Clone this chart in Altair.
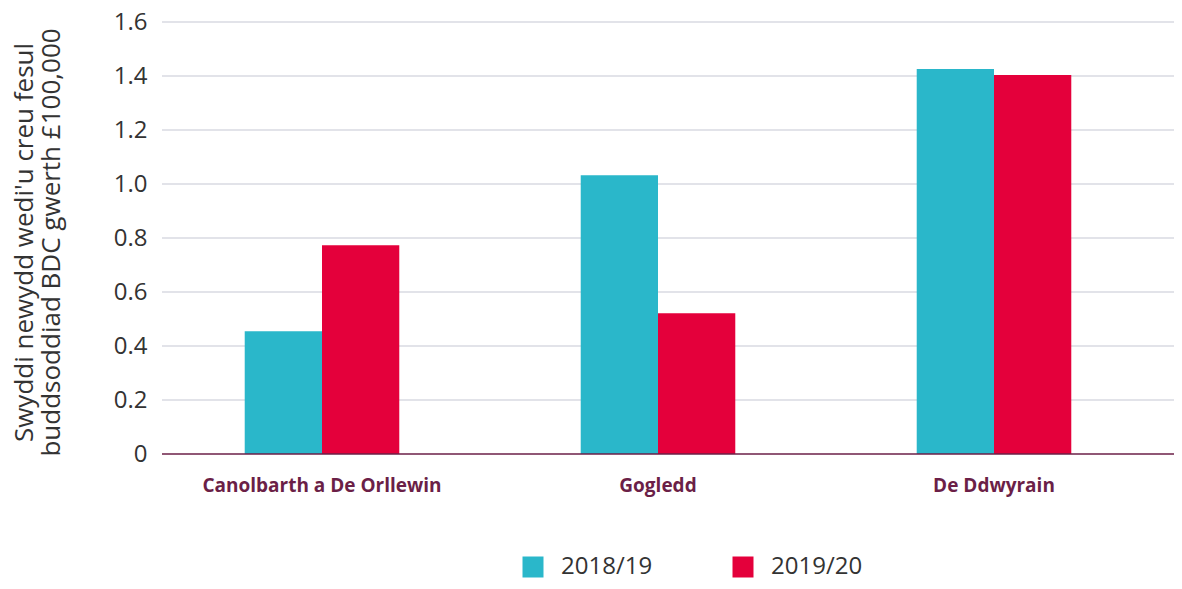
import altair as alt
import pandas as pd

regions = ["Canolbarth a De Orllewin", "Gogledd", "De Ddwyrain"]
years = ["2018/19", "2019/20"]
values_1819 = [0.455, 1.032, 1.426]
values_1920 = [0.773, 0.521, 1.404]
y_ticks = [0, 0.2, 0.4, 0.6, 0.8, 1.0, 1.2, 1.4, 1.6]
colors = ["#2ab7ca", "#e4003b"]

rows = []
for r, a, b in zip(regions, values_1819, values_1920):
    rows.append({"region": r, "year": years[0], "value": a})
    rows.append({"region": r, "year": years[1], "value": b})
df = pd.DataFrame(rows)
grid_df = pd.DataFrame({"v": [t for t in y_ticks if t > 0]})
zero_df = pd.DataFrame({"v": [0]})

FONT = "Open Sans"

grid = alt.Chart(grid_df).mark_rule(color="#c6c8d4", strokeWidth=1.2, clip=False).encode(
    y=alt.Y("v:Q", scale=alt.Scale(domain=[0, 1.6])),
    x=alt.value(8),
    x2=alt.value(1020),
)

bars = alt.Chart(df).mark_bar(strokeWidth=0).encode(
    x=alt.X(
        "region:N",
        sort=regions,
        scale=alt.Scale(paddingInner=0.54, paddingOuter=0.27),
        axis=alt.Axis(
            title=None,
            labelAngle=0,
            labelFont=FONT,
            labelFontSize=19,
            labelFontWeight="bold",
            labelColor="#6b1f47",
            labelPadding=22,
            labelLimit=500,
            ticks=False,
            domain=False,
            grid=False,
        ),
    ),
    xOffset=alt.XOffset("year:N", sort=years, scale=alt.Scale(paddingInner=0, paddingOuter=0)),
    y=alt.Y(
        "value:Q",
        scale=alt.Scale(domain=[0, 1.6], nice=False),
        axis=alt.Axis(
            title=["Swyddi newydd wedi'u creu fesul", "buddsoddiad BDC gwerth £100,000"],
            titleFont=FONT,
            titleFontSize=26,
            titleFontWeight="normal",
            titleColor="#333333",
            titleAngle=-90,
            titleX=-143,
            titleY=220,
            titleAlign="center",
            titleBaseline="top",
            titleLineHeight=27,
            values=y_ticks,
            labelExpr="datum.value == 0 ? '0' : format(datum.value, '.1f')",
            labelFont=FONT,
            labelFontSize=24,
            labelColor="#333333",
            labelPadding=7,
            ticks=False,
            domain=False,
            grid=False,
        ),
    ),
    color=alt.Color(
        "year:N",
        sort=years,
        scale=alt.Scale(domain=years, range=colors),
        legend=alt.Legend(
            title=None,
            orient="none",
            direction="horizontal",
            legendX=367,
            legendY=533,
            symbolType="square",
            symbolSize=441,
            symbolStrokeWidth=0,
            symbolOpacity=1,
            labelFont=FONT,
            labelFontSize=24,
            labelColor="#333333",
            labelOffset=16,
            columnPadding=78,
        ),
    ),
)

zero = alt.Chart(zero_df).mark_rule(color="#6b1f47", strokeWidth=1.5, clip=False).encode(
    y=alt.Y("v:Q", scale=alt.Scale(domain=[0, 1.6])),
    x=alt.value(8),
    x2=alt.value(1020),
)

chart = alt.layer(grid, bars, zero).properties(
    width=1008,
    height=432,
    background="white",
    autosize=alt.AutoSizeParams(type="none"),
    padding={"left": 146, "top": 14, "right": 12, "bottom": 126},
).configure_view(stroke="transparent", strokeWidth=0).configure_axis(grid=False)

chart.save("out.html", embed_options={"renderer": "svg", "actions": False})
